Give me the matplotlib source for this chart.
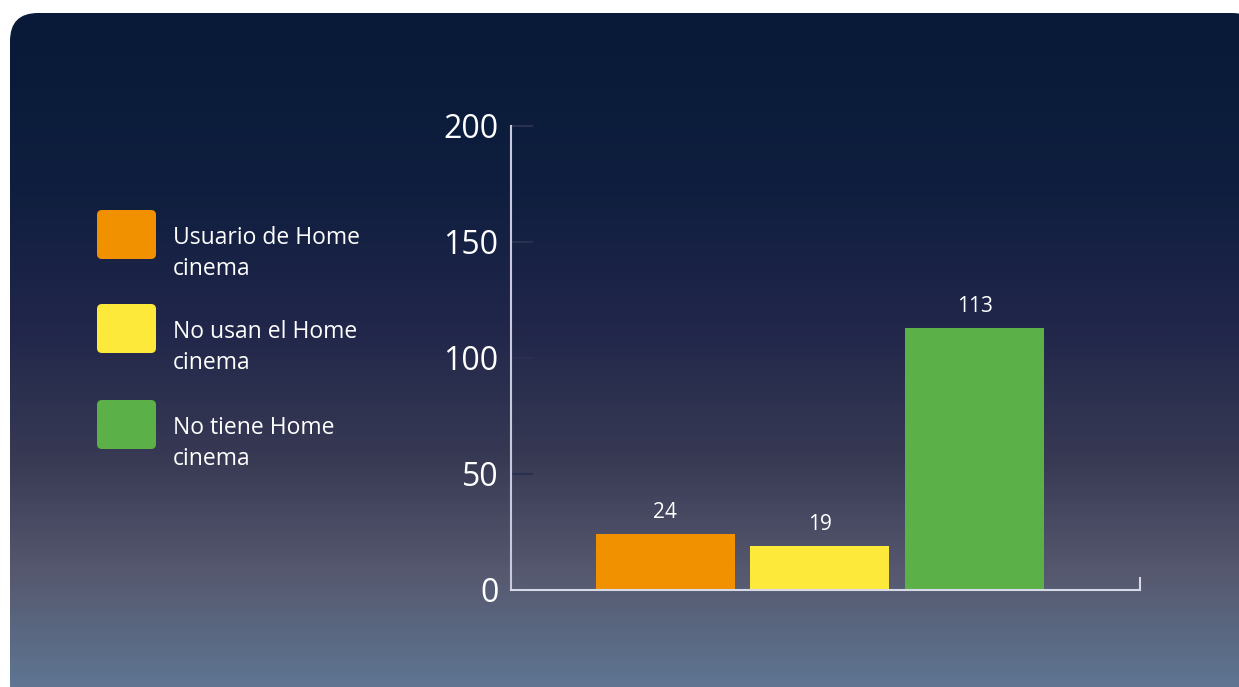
import numpy as np
import matplotlib.pyplot as plt
from matplotlib.patches import FancyBboxPatch
from matplotlib.colors import LinearSegmentedColormap

categories = ["Usuario de Home\ncinema", "No usan el Home\ncinema", "No tiene Home\ncinema"]
values = [24, 19, 113]
colors = ["#f29100", "#fde93a", "#5bb147"]
yticks = [0, 50, 100, 150, 200]

plt.rcParams["font.family"] = ["Open Sans", "DejaVu Sans"]

fig = plt.figure(figsize=(12.39, 6.87), dpi=100)
fig.patch.set_facecolor("white")

# background panel with vertical gradient
bg = fig.add_axes([0, 0, 1, 1])
bg.set_xlim(0, 1239)
bg.set_ylim(687, 0)
bg.axis("off")
grad = LinearSegmentedColormap.from_list(
    "bg",
    [(0.0, "#081a38"), (0.25, "#0f1e3e"), (0.45, "#20264a"),
     (0.65, "#383a54"), (0.82, "#56596f"), (1.0, "#5f7896")])
g = np.linspace(0, 1, 300).reshape(-1, 1)
im = bg.imshow(g, cmap=grad, aspect="auto", extent=[10, 1260, 700, 13])
panel = FancyBboxPatch((10, 13), 1250, 700, boxstyle="round,pad=0,rounding_size=28",
                       transform=bg.transData, facecolor="none", edgecolor="none")
bg.add_patch(panel)
im.set_clip_path(panel)

# legend swatches and labels
leg_y = [234.5, 328.5, 424.5]
for c, lab, y in zip(colors, categories, leg_y):
    bg.add_patch(FancyBboxPatch((97, y - 24.5), 59, 49,
                                boxstyle="round,pad=0,rounding_size=5",
                                facecolor=c, edgecolor="none"))
    bg.text(173, y + 19, lab, color="white", fontsize=16.5, va="center",
            ha="left", linespacing=1.35)

ax = fig.add_axes([511 / 1239, 1 - 590 / 687, 629 / 1239, 464 / 687])
ax.set_facecolor("none")
x = np.arange(len(values))
bars = ax.bar(x, values, width=0.897, color=colors)
ax.set_xlim(-0.997, 3.07)
ax.set_ylim(0, 200)

for xi, v in zip(x, values):
    ax.annotate(str(v), (xi, v), xytext=(0, 8), textcoords="offset points",
                ha="center", va="bottom", color="white", fontsize=15)

ax.set_yticks(yticks)
ax.set_yticklabels([str(t) for t in yticks], fontsize=23, color="white")
ax.tick_params(axis="y", direction="in", length=16, width=1.5, color="#2a3050", pad=9)
ax.set_xticks([])

ax.spines["top"].set_visible(False)
ax.spines["left"].set_color("#c8c9dc")
ax.spines["left"].set_linewidth(1.5)
ax.spines["bottom"].set_color("#d8d9e6")
ax.spines["bottom"].set_linewidth(1.5)
ax.spines["right"].set_color("#d8d9e6")
ax.spines["right"].set_linewidth(1.5)
ax.spines["right"].set_bounds(0, 5)

fig.savefig("out.png", dpi=100, facecolor="white")
